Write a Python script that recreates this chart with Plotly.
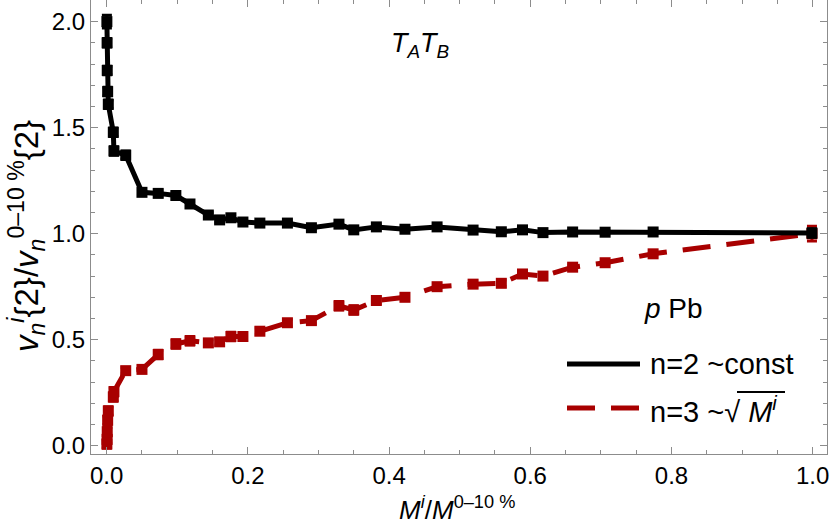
import plotly.graph_objects as go

# centrality-bin multiplicity ratio M^i / M^(0-10%)
x_vals = [0.0003, 0.0006, 0.0008, 0.0014, 0.0023, 0.0094, 0.0103, 0.027, 0.050, 0.073,
          0.098, 0.118, 0.144, 0.160, 0.176, 0.193, 0.217, 0.256, 0.290, 0.329,
          0.350, 0.382, 0.4225, 0.468, 0.519, 0.559, 0.589, 0.618, 0.660, 0.706,
          0.774, 0.999]

# n=2 ratio
v2_vals = [2.00, 1.90, 1.77, 1.67, 1.61, 1.478, 1.39, 1.37, 1.195, 1.19,
           1.18, 1.14, 1.088, 1.065, 1.075, 1.055, 1.05, 1.05, 1.028, 1.045,
           1.018, 1.032, 1.021, 1.032, 1.017, 1.009, 1.018, 1.005, 1.008, 1.007,
           1.008, 1.003]
v2_err = [0.03, 0.02, 0.02, 0.02, 0.02, 0.02, 0.02, 0.02, 0.015, 0.015,
          0.015, 0.015, 0.012, 0.012, 0.012, 0.01, 0.01, 0.01, 0.01, 0.01,
          0.01, 0.01, 0.008, 0.008, 0.008, 0.008, 0.008, 0.008, 0.008, 0.008,
          0.008, 0.02]

# n=3 ratio
v3_vals = [0.008, 0.03, 0.066, 0.12, 0.164, 0.23, 0.255, 0.354, 0.36, 0.43,
           0.48, 0.495, 0.485, 0.49, 0.515, 0.515, 0.54, 0.58, 0.59, 0.66,
           0.64, 0.685, 0.70, 0.75, 0.762, 0.766, 0.81, 0.80, 0.842, 0.863,
           0.905, 1.0]
v3_err = [0.02, 0.02, 0.02, 0.02, 0.02, 0.02, 0.02, 0.015, 0.015, 0.02,
          0.02, 0.02, 0.015, 0.015, 0.02, 0.015, 0.015, 0.015, 0.015, 0.02,
          0.02, 0.015, 0.015, 0.015, 0.015, 0.015, 0.015, 0.01, 0.01, 0.01,
          0.01, 0.035]

x_ticks = [0.0, 0.2, 0.4, 0.6, 0.8, 1.0]
y_ticks = [0.0, 0.5, 1.0, 1.5, 2.0]

BLACK = "#000000"
RED = "#A80000"
FONT = "Liberation Sans"

fig = go.Figure()
fig.add_trace(go.Scatter(
    x=x_vals, y=v3_vals, mode="lines+markers",
    line=dict(color=RED, width=5, dash="28px,16px"),
    marker=dict(symbol="square", size=11, color=RED),
    error_y=dict(type="data", array=v3_err, color=RED, thickness=3, width=5),
    showlegend=False))
fig.add_trace(go.Scatter(
    x=x_vals, y=v2_vals, mode="lines+markers",
    line=dict(color=BLACK, width=5),
    marker=dict(symbol="square", size=11, color=BLACK),
    error_y=dict(type="data", array=v2_err, color=BLACK, thickness=3, width=5),
    showlegend=False))

axis_common = dict(
    showline=True, linecolor="#8c8c8c", linewidth=1, mirror="allticks",
    ticks="inside", ticklen=7, tickcolor="#8c8c8c", tickwidth=1,
    showgrid=False, zeroline=False, automargin=False,
    tickfont=dict(family=FONT, size=24, color="black"),
)
fig.update_xaxes(range=[-0.0222, 1.0203], tickvals=x_ticks,
                 ticktext=[f"{v:.1f}" for v in x_ticks],
                 minor=dict(dtick=0.05, ticks="inside", ticklen=4, tickcolor="#8c8c8c"),
                 **axis_common)
fig.update_yaxes(range=[-0.039, 2.102], tickvals=y_ticks,
                 ticktext=[f"{v:.1f}" for v in y_ticks],
                 minor=dict(dtick=0.1, ticks="inside", ticklen=4, tickcolor="#8c8c8c"),
                 **axis_common)

L, R, T, B = 91, 3, 0, 74
W, H = 830, 528
pw, ph = W - L - R, H - T - B


def px(xp):
    return (xp - L) / pw


def py(yp):
    return (H - B - yp) / ph


def note(text, xp, yp, size, **kw):
    d = dict(text=text, x=px(xp), y=py(yp), xref="paper", yref="paper",
             xanchor="center", yanchor="middle", showarrow=False,
             font=dict(family=FONT, size=size, color="black"))
    d.update(kw)
    return d


annotations = [
    note("<i>T<sub>A</sub>T<sub>B</sub></i>", 420, 45, 27),
    note("<i>p</i> Pb", 673, 308, 28),
    note("n=2 ~const", 648, 364, 29, xanchor="left"),
    note("n=3 ~√ <i>M<sup>i</sup></i>", 648, 410, 29, xanchor="left"),
    note("<i>v</i><sub><i>n</i></sub><sup><i>i</i></sup>{2}/<i>v</i><sub><i>n</i></sub><sup>0–10 %</sup>{2}",
         26, 236, 33, textangle=-90),
    note("<i>M<sup>i</sup></i>/<i>M</i><sup>0–10 %</sup>", 457, 508, 26),
]

shapes = [
    dict(type="line", xref="paper", yref="paper", x0=px(567), x1=px(640), y0=py(364), y1=py(364),
         line=dict(color=BLACK, width=5)),
    dict(type="line", xref="paper", yref="paper", x0=px(567), x1=px(595), y0=py(408), y1=py(408),
         line=dict(color=RED, width=5)),
    dict(type="line", xref="paper", yref="paper", x0=px(611), x1=px(639), y0=py(408), y1=py(408),
         line=dict(color=RED, width=5)),
    # overline of the square-root sign in the legend text
    dict(type="line", xref="paper", yref="paper", x0=px(737), x1=px(785), y0=py(392), y1=py(392),
         line=dict(color=BLACK, width=2)),
]

fig.update_layout(
    width=W, height=H,
    margin=dict(l=L, r=R, t=T, b=B, autoexpand=False),
    paper_bgcolor="white", plot_bgcolor="white",
    annotations=annotations, shapes=shapes,
    font=dict(family=FONT),
)

fig.write_html("out.html", config={"displayModeBar": False},
               post_script="document.body.style.margin='0';")
